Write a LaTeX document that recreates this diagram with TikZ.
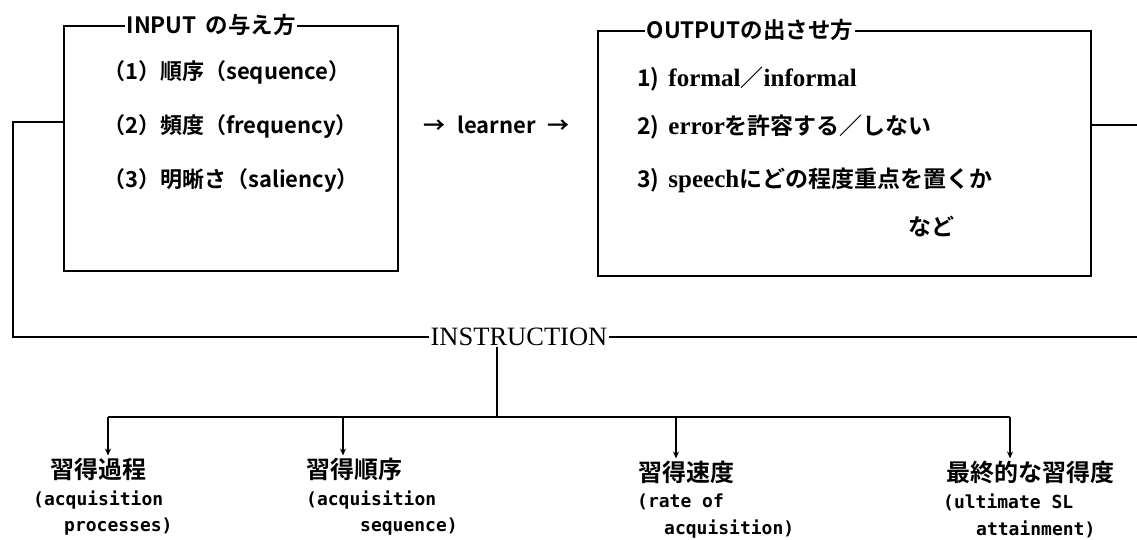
\documentclass[tikz,border=0pt]{standalone}
\usepackage{fontspec}
\usetikzlibrary{arrows.meta}
\newfontfamily\jp{Noto Sans CJK JP}[BoldFont={Noto Sans CJK JP Bold}]
\newfontfamily\ser{Liberation Serif}
\newfontfamily\mono{DejaVu Sans Mono}
\newcommand\myL[1]{{\ser\bfseries\fontsize{25}{25}\selectfont #1}}
\begin{document}
\begin{tikzpicture}[x=1pt,y=-1pt,
  box/.style={draw, line width=2pt, inner sep=0pt},
  wire/.style={line width=2pt},
  ttl/.style={fill=white, inner xsep=1.5pt, inner ysep=0pt, anchor=west, font=\jp\bfseries\fontsize{22.5}{22.5}\selectfont},
  item/.style={anchor=west, inner sep=0pt, font=\jp\bfseries\fontsize{22}{22}\selectfont},
  oitem/.style={anchor=west, inner sep=0pt, font=\jp\bfseries\fontsize{23}{23}\selectfont},
  jlab/.style={anchor=west, inner sep=0pt, font=\jp\bfseries\fontsize{24}{24}\selectfont},
  elab/.style={anchor=west, inner sep=0pt, font=\mono\bfseries\fontsize{18}{18}\selectfont},
  arr/.style={-{Stealth[length=7pt,width=6pt]}, line width=1.6pt, shorten >=2pt}]
\useasboundingbox (0,0) rectangle (1137,540);

% boxes
\node[box, minimum width=334pt, minimum height=245pt, anchor=north west] (inbox) at (63,25) {};
\node[box, minimum width=493pt, minimum height=245pt, anchor=north west] (outbox) at (597,30) {};
\node[ttl] (intitle) at (125,25) {INPUT\hspace{4pt} の与え方};
\node[ttl] (outtitle) at (645,30) {OUTPUTの出させ方};

% input items
\node[item] (i1) at (103,72) {（1）順序（sequence）};
\node[item] (i2) at (103,127) {（2）頻度（frequency）};
\node[item] (i3) at (103,181) {（3）明晰さ（saliency）};

% output items
\node[oitem] (o1) at (637,79) {1)\hspace{9pt}\myL{formal}／\myL{informal}};
\node[oitem] (o2) at (637,127) {2)\hspace{9pt}\myL{error}を許容する／しない};
\node[oitem] (o3) at (637,180) {3)\hspace{9pt}\myL{speech}にどの程度重点を置くか};
\node[oitem] (o4) at (908,227) {など};

% learner
\node[item] (lrn) at (423,125) {→\hspace{12pt}learner\hspace{12pt}→};

% instruction
\node[font=\ser\fontsize{26.5}{26.5}\selectfont, inner sep=1pt] (instr) at (519,337) {INSTRUCTION};

% connectors
\coordinate (oEnd) at (1137,125);
\coordinate (iEnd) at (1137,337);
\coordinate (bus) at (497,417);
\draw[wire] (inbox.west |- 0,122) -- (13,122) |- (instr.west);
\draw[wire] (instr.east) -- (iEnd);
\draw[wire] (outbox.east |- lrn) -- (oEnd);
\draw[wire] (bus |- instr.south) -- (bus);

% bottom labels
\node[jlab] (l1a) at (50,469) {習得過程};
\node[elab] (l1b) at (33,500) {(acquisition};
\node[elab] (l1c) at (64,527) {processes)};
\node[jlab] (l2a) at (306,469) {習得順序};
\node[elab] (l2b) at (306,500) {(acquisition};
\node[elab] (l2c) at (360,527) {sequence)};
\node[jlab] (l3a) at (638,472) {習得速度};
\node[elab] (l3b) at (637,502) {(rate of};
\node[elab] (l3c) at (664,529) {acquisition)};
\node[jlab] (l4a) at (946,472) {最終的な習得度};
\node[elab] (l4b) at (943,502) {(ultimate SL};
\node[elab] (l4c) at (976,529) {attainment)};

\coordinate (a1) at (108,417);
\coordinate (a2) at (343,417);
\coordinate (a3) at (676,417);
\coordinate (a4) at (1010,417);
\draw[wire] (a1) -- (a4);
\draw[arr] (a1) -- (a1 |- l1a.north);
\draw[arr] (a2) -- (a2 |- l2a.north);
\draw[arr] (a3) -- (a3 |- l3a.north);
\draw[arr] (a4) -- (a4 |- l4a.north);
\end{tikzpicture}
\end{document}
